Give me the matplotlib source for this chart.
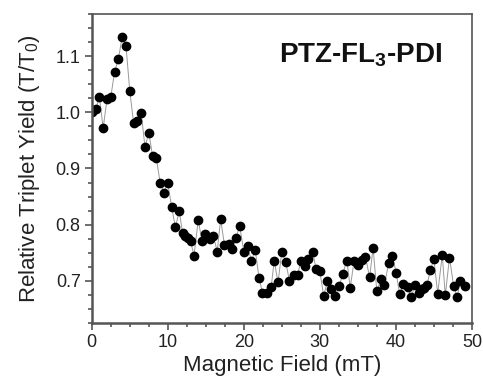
import matplotlib
matplotlib.use("Agg")
import matplotlib.pyplot as plt
from matplotlib.ticker import MultipleLocator

plt.rcParams['font.family'] = ['Liberation Sans', 'DejaVu Sans']
plt.rcParams['mathtext.fontset'] = 'custom'
plt.rcParams['mathtext.rm'] = 'Liberation Sans'
plt.rcParams['mathtext.bf'] = 'Liberation Sans:bold'

# magnetic field (mT) and relative triplet yield
field = [0.0, 0.5, 1.0, 1.5, 2.0, 2.5, 3.0, 3.5, 4.0, 4.5,
         5.0, 5.5, 6.0, 6.5, 7.0, 7.5, 8.0, 8.5, 9.0, 9.5,
         10.0, 10.5, 11.0, 11.5, 11.95, 12.2, 12.6, 13.0, 13.45, 14.0,
         14.5, 14.95, 15.5, 16.0, 16.5, 16.95, 17.45, 18.0, 18.5, 19.0,
         19.45, 20.0, 20.5, 21.0, 21.5, 22.0, 22.45, 23.05, 23.6, 24.0,
         24.5, 25.0, 25.5, 26.0, 26.55, 27.1, 27.5, 28.0, 28.5, 29.05,
         29.5, 30.0, 30.5, 31.0, 31.5, 32.0, 32.55, 33.0, 33.55, 34.0,
         34.5, 35.05, 35.55, 36.0, 36.55, 37.0, 37.5, 38.05, 38.5, 39.05,
         39.55, 40.05, 40.5, 41.0, 41.55, 42.0, 42.55, 43.0, 43.4, 43.75,
         44.1, 44.55, 45.0, 45.5, 46.1, 46.5, 47.05, 47.6, 48.05, 48.5,
         49.05]
yield_rel = [1.000, 1.005, 1.027, 0.972, 1.023, 1.027, 1.072, 1.095, 1.134, 1.118,
             1.038, 0.981, 0.984, 0.999, 0.938, 0.964, 0.922, 0.918, 0.874, 0.857,
             0.874, 0.832, 0.795, 0.824, 0.785, 0.780, 0.776, 0.770, 0.745, 0.808,
             0.771, 0.784, 0.774, 0.780, 0.752, 0.810, 0.764, 0.766, 0.757, 0.777,
             0.798, 0.752, 0.762, 0.735, 0.755, 0.705, 0.679, 0.679, 0.689, 0.736,
             0.697, 0.752, 0.734, 0.700, 0.711, 0.711, 0.736, 0.726, 0.739, 0.752,
             0.721, 0.717, 0.673, 0.699, 0.686, 0.673, 0.690, 0.712, 0.736, 0.688,
             0.735, 0.728, 0.737, 0.743, 0.706, 0.759, 0.681, 0.703, 0.692, 0.732,
             0.745, 0.713, 0.676, 0.695, 0.689, 0.671, 0.692, 0.679, 0.685, 0.688,
             0.693, 0.719, 0.739, 0.677, 0.746, 0.674, 0.741, 0.691, 0.671, 0.700,
             0.691]

fig = plt.figure(figsize=(4.83, 3.79), dpi=100)
ax = fig.add_axes([0.190, 0.148, 0.787, 0.815])

ax.plot(field, yield_rel, color='#999999', lw=0.7, zorder=1)
ax.plot(field, yield_rel, 'o', color='black', ms=6, zorder=2)

ax.set_xlim(0, 50)
ax.set_ylim(0.625, 1.175)
ax.xaxis.set_major_locator(MultipleLocator(10))
ax.xaxis.set_minor_locator(MultipleLocator(2.5))
ax.yaxis.set_major_locator(MultipleLocator(0.1))
ax.yaxis.set_minor_locator(MultipleLocator(0.025))
ax.yaxis.set_major_formatter(plt.FormatStrFormatter('%.1f'))

for side in ['left', 'bottom']:
    ax.spines[side].set_linewidth(1.8)
    ax.spines[side].set_color('#555555')
for side in ['top', 'right']:
    ax.spines[side].set_linewidth(1.2)
    ax.spines[side].set_color('#555555')

ax.tick_params(which='both', direction='out', color='#555555', width=1.2,
               labelsize=13, top=False, right=False, labelcolor='#222222')
ax.tick_params(which='major', length=5, pad=3)
ax.tick_params(which='minor', length=3)

ax.set_xlabel('Magnetic Field (mT)', fontsize=16, color='#222222', labelpad=3)
ax.set_ylabel('Relative Triplet Yield (T/T$_0$)', fontsize=16, color='#222222', labelpad=10)

ax.text(0.708, 0.867, r'PTZ-FL$_{\mathbf{3}}$-PDI', transform=ax.transAxes,
        fontsize=20, fontweight='bold', ha='center', va='center', color='#111111')

plt.savefig('out.png', dpi=100)
